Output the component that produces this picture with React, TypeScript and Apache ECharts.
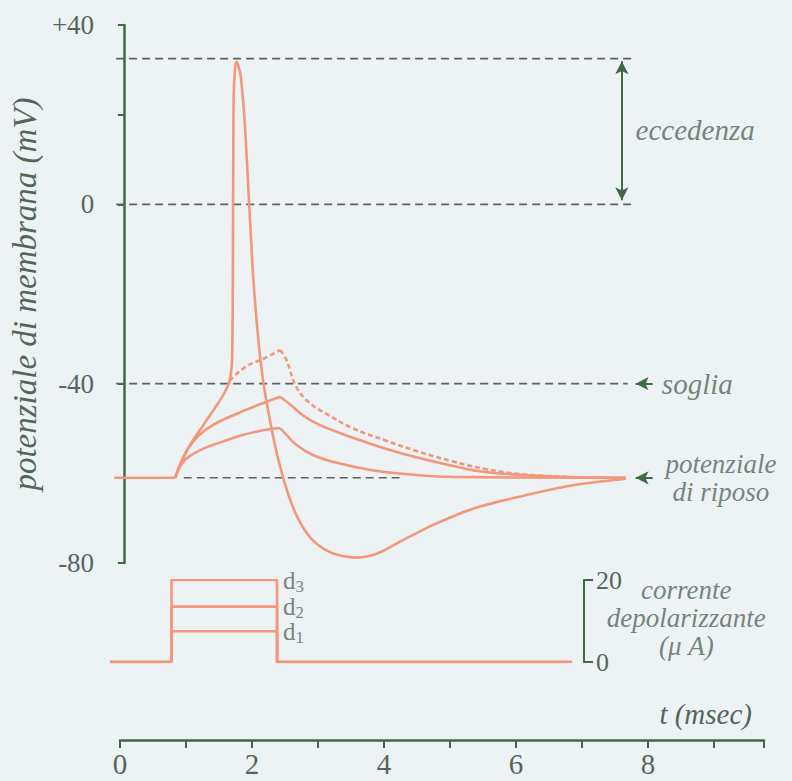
import React, { useEffect, useRef } from 'react';
import * as echarts from 'echarts';

// ---------- data ----------
const T_MIN = -16 / 66;
const T_MAX = 644 / 66;

const potentialTicks = [40, 20, 0, -40, -80];
const potentialLabels = [40, 0, -40, -80];
const currentScaleTicks = [0, 20];

const restV = -61;
const thresholdV = -40;
const zeroV = 0;
const overshootV = 32.5;

const pulseOn = 0.78;
const pulseOff = 2.38;
const traceStart = -0.15;
const currentEnd = 6.85;

const currentLevels = [7.5, 13.5, 20];
const currentIdx = ['1', '2', '3'];

// action potential (d3)
const apTime = [0.78, 0.96, 1.21, 1.41, 1.54, 1.61, 1.645, 1.655, 1.66, 1.663, 1.667, 1.672, 1.69, 1.71, 1.74, 1.78, 1.84, 1.91, 1.97, 2.05, 2.12, 2.22, 2.35, 2.5, 2.65, 2.85, 3.1, 3.35, 3.56, 3.86, 4.24, 4.7, 5.3, 6.06, 6.82, 7.65];
const apV = [-61, -54.8, -49.2, -44.9, -41.8, -39.3, -35.3, -27, -15, 0, 15, 24, 29.8, 31.8, 31, 28.5, 18.2, -0.4, -16.3, -30.5, -39.3, -47.8, -56.8, -64.5, -70.0, -74.5, -77.3, -78.5, -78.8, -77.9, -75.0, -71.6, -68.0, -65.1, -62.7, -61.2];

// d3 hypothetical subthreshold continuation (dashed)
const d3RiseTime = [1.61, 1.87, 2.12, 2.38];
const d3RiseV = [-39.3, -36.1, -34.5, -32.5];
const d3DecayTime = [2.38, 2.47, 2.63, 2.83, 3.13, 3.48, 3.99, 4.5, 5.0, 5.5, 6.06, 6.82];
const d3DecayV = [-32.5, -34.5, -40.8, -44.3, -47.1, -49.9, -52.7, -55.2, -57.3, -59.0, -60.2, -60.8];

// d2
const d2RiseTime = [0.78, 0.91, 1.11, 1.36, 1.72, 2.07, 2.38];
const d2RiseV = [-61, -56.2, -52.0, -49.2, -46.7, -44.6, -42.9];
const d2DecayTime = [2.38, 2.53, 2.73, 2.98, 3.48, 3.99, 4.5, 5.0, 5.5, 6.36, 7.65];
const d2DecayV = [-42.9, -44.6, -47.1, -49.2, -52.0, -54.5, -56.6, -58.3, -59.7, -60.6, -61];

// d1
const d1RiseTime = [0.78, 0.86, 0.96, 1.21, 1.47, 1.77, 2.12, 2.38];
const d1RiseV = [-61, -58.3, -56.6, -54.5, -53.1, -51.6, -50.4, -49.9];
const d1DecayTime = [2.38, 2.47, 2.63, 2.88, 3.23, 3.74, 4.24, 5.0, 7.65];
const d1DecayV = [-49.9, -51.3, -53.7, -55.9, -57.6, -59.2, -60.1, -60.8, -61];

// ---------- styles ----------
const ORANGE = '#f2977a';
const GREEN = '#3f6a45';
const TEXT = '#55675b';
const DASH = '#5d6064';
const SERIF = "'Liberation Serif', 'Times New Roman', Times, serif";

const pair = (ts: number[], vs: number[]) => ts.map((t, i) => [t, vs[i]]);

const trace = (data: number[][], dashed = false, smooth: number | boolean = 0.4) => ({
  type: 'line',
  xAxisIndex: 0,
  yAxisIndex: 0,
  data,
  smooth,
  symbol: 'none',
  silent: true,
  lineStyle: { color: ORANGE, width: 2.6, type: dashed ? [5, 3] : 'solid' },
  z: 5,
});

const refLine = (v: number, from: number, to: number, extra: any = {}) => ({
  type: 'line',
  xAxisIndex: 0,
  yAxisIndex: 0,
  data: [[from, v], [to, v]],
  symbol: 'none',
  silent: true,
  lineStyle: { color: DASH, width: 1.6, type: [8, 5] },
  z: 2,
  ...extra,
});

const annText = {
  fontFamily: SERIF,
  fontStyle: 'italic',
  fontSize: 29,
  color: TEXT,
};

const arrowMark = (from: number[], to: number[], both = false) => ({
  silent: true,
  symbol: both ? ['arrow', 'arrow'] : ['none', 'arrow'],
  symbolSize: [10, 13],
  label: { show: false },
  lineStyle: { color: GREEN, width: 2, type: 'solid' },
  data: [[{ coord: from }, { coord: to }]],
});

const option: any = {
  animation: false,
  backgroundColor: '#edf2f5',
  grid: [
    { left: 104, top: 25, width: 660, height: 538 },
    { left: 104, top: 580, width: 660, height: 82 },
    { left: 120, top: 700, width: 644, height: 40 },
    { left: 584, top: 580, width: 30, height: 82 },
  ],
  xAxis: [
    { gridIndex: 0, type: 'value', min: T_MIN, max: T_MAX, show: false },
    { gridIndex: 1, type: 'value', min: T_MIN, max: T_MAX, show: false },
    {
      gridIndex: 2, type: 'value', min: 0, max: T_MAX, interval: 1, position: 'bottom',
      axisLine: { show: true, lineStyle: { color: GREEN, width: 2.5 } },
      axisTick: { show: true, length: 8, lineStyle: { color: GREEN, width: 2 } },
      axisLabel: {
        show: true, margin: 9, fontFamily: SERIF, fontSize: 29, color: TEXT,
        formatter: (v: number) => (v % 2 === 0 ? String(v) : ''),
      },
      splitLine: { show: false },
      name: 't (msec)',
      nameLocation: 'end',
      nameGap: -12,
      nameTextStyle: {
        fontFamily: SERIF, fontStyle: 'italic', fontSize: 29, color: TEXT,
        align: 'right', verticalAlign: 'bottom', padding: [0, 0, 12, 0],
      },
    },
    { gridIndex: 3, type: 'value', min: 0, max: 1, show: false },
  ],
  yAxis: [
    {
      gridIndex: 0, type: 'value', min: -80, max: 40, interval: 20,
      axisLine: { show: true, lineStyle: { color: GREEN, width: 2.5 } },
      axisTick: { show: true, length: 6, customValues: potentialTicks, lineStyle: { color: GREEN, width: 2 } },
      axisLabel: {
        show: true, margin: 14, fontFamily: SERIF, fontSize: 27, color: TEXT,
        customValues: potentialLabels,
        formatter: (v: number) => (v > 0 ? '+' + v : String(v)),
      },
      splitLine: { show: false },
      name: 'potenziale di membrana (mV)',
      nameLocation: 'middle',
      nameGap: 54,
      nameTextStyle: { fontFamily: SERIF, fontStyle: 'italic', fontSize: 33, color: TEXT },
    },
    { gridIndex: 1, type: 'value', min: 0, max: 20, show: false },
    { gridIndex: 2, type: 'value', min: 0, max: 1, show: false },
    {
      gridIndex: 3, type: 'value', min: 0, max: 20, interval: 20,
      axisLine: { show: true, lineStyle: { color: GREEN, width: 2 } },
      axisTick: { show: true, inside: true, length: 9, customValues: currentScaleTicks, lineStyle: { color: GREEN, width: 2 } },
      axisLabel: { show: true, inside: true, margin: 12, fontFamily: SERIF, fontSize: 26, color: TEXT },
      splitLine: { show: false },
    },
  ],
  series: [
    // reference dashed lines
    refLine(overshootV, -0.12, 7.8, { markLine: arrowMark([7.59, overshootV - 0.6], [7.59, zeroV + 0.9], true) }),
    refLine(zeroV, -0.12, 7.8),
    refLine(thresholdV, -0.12, 7.68, { markLine: arrowMark([8.06, thresholdV], [7.8, thresholdV]) }),
    refLine(restV, 0.91, 4.2, { markLine: arrowMark([8.06, restV], [7.8, restV]) }),
    // resting baseline before stimulus
    trace([[traceStart, restV], [pulseOn, restV]], false, false),
    // subthreshold responses
    trace(pair(d1RiseTime, d1RiseV)),
    trace(pair(d1DecayTime, d1DecayV)),
    trace(pair(d2RiseTime, d2RiseV)),
    trace(pair(d2DecayTime, d2DecayV)),
    trace(pair(d3RiseTime, d3RiseV), true),
    trace(pair(d3DecayTime, d3DecayV), true),
    // action potential
    trace(pair(apTime, apV), false, 0.3),
    // annotation texts
    {
      type: 'scatter', xAxisIndex: 0, yAxisIndex: 0, symbolSize: 0, silent: true,
      data: [
        { value: [7.8, 16.5], label: { show: true, position: 'right', distance: 0, formatter: 'eccedenza', ...annText } },
        { value: [8.2, thresholdV], label: { show: true, position: 'right', distance: 0, formatter: 'soglia', ...annText } },
        { value: [9.1, restV], label: { show: true, position: 'inside', align: 'center', formatter: 'potenziale\ndi riposo', ...annText, fontSize: 27, lineHeight: 28 } },
      ],
    },
    // depolarizing currents
    ...currentLevels.map((lvl) => ({
      type: 'line',
      xAxisIndex: 1,
      yAxisIndex: 1,
      symbol: 'none',
      silent: true,
      lineStyle: { color: ORANGE, width: 2.6 },
      data: [
        [traceStart, 0],
        [pulseOn, 0],
        [pulseOn, lvl],
        [pulseOff, lvl],
        [pulseOff, 0],
        [currentEnd, 0],
      ],
    })),
    {
      type: 'scatter', xAxisIndex: 1, yAxisIndex: 1, symbolSize: 0, silent: true,
      data: currentLevels.map((lvl, i) => ({
        value: [pulseOff, lvl],
        label: {
          show: true, position: 'right', distance: 6,
          formatter: '{d|d}{s|' + currentIdx[i] + '}',
          rich: {
            d: { fontFamily: SERIF, fontSize: 25, color: TEXT },
            s: { fontFamily: SERIF, fontSize: 17, color: TEXT, padding: [12, 0, 0, 0] },
          },
        },
      })),
    },
    {
      type: 'scatter', xAxisIndex: 1, yAxisIndex: 1, symbolSize: 0, silent: true,
      data: [
        { value: [8.58, 10.8], label: { show: true, position: 'inside', align: 'center', formatter: 'corrente\ndepolarizzante\n(μ A)', ...annText, fontSize: 27, lineHeight: 28 } },
      ],
    },
  ],
};

export default function App() {
  const ref = useRef<HTMLDivElement>(null);
  useEffect(() => {
    const chart = echarts.init(ref.current!, null, { renderer: 'svg' });
    chart.setOption(option);
    return () => chart.dispose();
  }, []);
  return (
    <div
      ref={ref}
      style={{ position: 'absolute', left: 0, top: 0, width: 792, height: 781, background: '#edf2f5' }}
    />
  );
}
